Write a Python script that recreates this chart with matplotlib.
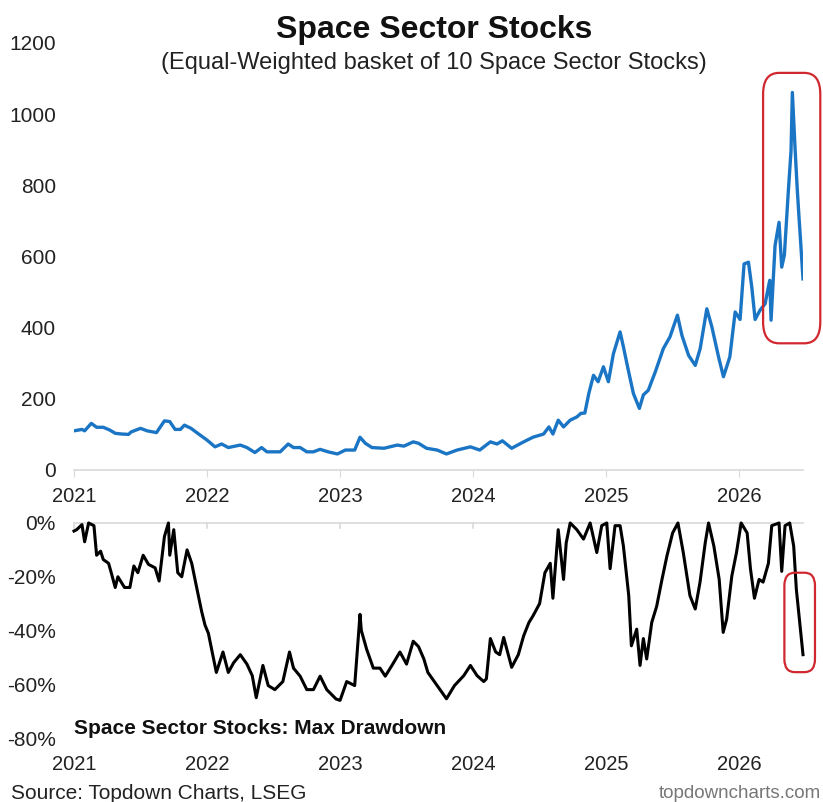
import matplotlib
matplotlib.use("Agg")
import matplotlib.pyplot as plt
from matplotlib.patches import FancyBboxPatch

plt.rcParams['font.family'] = ['Liberation Sans', 'DejaVu Sans']

# ---- data (x = decimal year) ----
price_t = [2021.00, 2021.06, 2021.08, 2021.13, 2021.17, 2021.22, 2021.27, 2021.31, 2021.36,
           2021.41, 2021.43, 2021.50, 2021.55, 2021.62, 2021.68, 2021.72, 2021.76, 2021.80,
           2021.83, 2021.88, 2021.93, 2022.00, 2022.06, 2022.11, 2022.16, 2022.25, 2022.30,
           2022.36, 2022.41, 2022.45, 2022.55, 2022.61, 2022.65, 2022.70, 2022.75, 2022.80,
           2022.85, 2022.91, 2022.98, 2023.04, 2023.11, 2023.15, 2023.19, 2023.24, 2023.33,
           2023.43, 2023.48, 2023.55, 2023.59, 2023.65, 2023.73, 2023.80, 2023.88, 2023.98,
           2024.05, 2024.13, 2024.18, 2024.22, 2024.29, 2024.38, 2024.45, 2024.53, 2024.57,
           2024.60, 2024.64, 2024.68, 2024.73, 2024.78, 2024.81, 2024.84, 2024.87, 2024.905,
           2024.94, 2024.98, 2025.017, 2025.055, 2025.105, 2025.13, 2025.167, 2025.205, 2025.25,
           2025.28, 2025.317, 2025.37, 2025.43, 2025.48, 2025.536, 2025.57, 2025.62, 2025.67,
           2025.707, 2025.757, 2025.795, 2025.845, 2025.882, 2025.93, 2025.97, 2026.007, 2026.037,
           2026.07, 2026.095, 2026.12, 2026.157, 2026.195, 2026.23, 2026.24, 2026.27, 2026.30,
           2026.32, 2026.34, 2026.37, 2026.39, 2026.40, 2026.42, 2026.436, 2026.45, 2026.46,
           2026.48]
price_v = [110, 114, 110, 131, 120, 120, 112, 103, 101,
           100, 107, 117, 110, 105, 138, 136, 114, 114,
           126, 117, 103, 84, 65, 73, 63, 70, 63,
           49, 63, 51, 51, 73, 63, 63, 51, 51,
           58, 51, 45, 56, 56, 92, 75, 63, 61,
           70, 67, 79, 75, 61, 56, 45, 56, 65,
           56, 79, 73, 82, 61, 79, 92, 101, 121,
           101, 140, 121, 140, 149, 159, 160, 215, 266,
           248, 290, 248, 327, 388, 346, 280, 215, 173,
           211, 224, 276, 341, 374, 435, 378, 322, 294,
           341, 453, 402, 318, 262, 318, 444, 423, 579,
           584, 514, 423, 449, 467, 533, 421, 631, 696,
           570, 604, 785, 897, 1061, 906, 794, 710, 654,
           537]

dd_t = [2021.00, 2021.02, 2021.06, 2021.08, 2021.11, 2021.15, 2021.17, 2021.20, 2021.22,
        2021.26, 2021.28, 2021.31, 2021.33, 2021.38, 2021.42, 2021.45, 2021.48, 2021.52,
        2021.56, 2021.61, 2021.64, 2021.68, 2021.71, 2021.72, 2021.75, 2021.78, 2021.81,
        2021.85, 2021.885, 2021.92, 2021.96, 2021.985, 2022.01, 2022.035, 2022.07, 2022.12,
        2022.16, 2022.20, 2022.25, 2022.30, 2022.34, 2022.37, 2022.42, 2022.46, 2022.51,
        2022.57, 2022.62, 2022.65, 2022.70, 2022.75, 2022.80, 2022.85, 2022.90, 2022.97,
        2023.00, 2023.05, 2023.11, 2023.15, 2023.16, 2023.20, 2023.25, 2023.30, 2023.34,
        2023.39, 2023.45, 2023.50, 2023.55, 2023.59, 2023.63, 2023.66, 2023.73, 2023.80,
        2023.86, 2023.93, 2023.98, 2024.03, 2024.08, 2024.10, 2024.13, 2024.17, 2024.20,
        2024.23, 2024.29, 2024.34, 2024.38, 2024.42, 2024.45, 2024.50, 2024.54, 2024.58,
        2024.60, 2024.64, 2024.68, 2024.70, 2024.73, 2024.78, 2024.83, 2024.88, 2024.93,
        2024.967, 2025.005, 2025.03, 2025.067, 2025.105, 2025.13, 2025.17, 2025.19, 2025.23,
        2025.255, 2025.28, 2025.305, 2025.343, 2025.38, 2025.42, 2025.457, 2025.50, 2025.54,
        2025.58, 2025.63, 2025.67, 2025.706, 2025.745, 2025.77, 2025.81, 2025.85, 2025.88,
        2025.906, 2025.945, 2025.98, 2026.015, 2026.06, 2026.085, 2026.115, 2026.15, 2026.18,
        2026.22, 2026.245, 2026.30, 2026.32, 2026.345, 2026.38, 2026.41, 2026.43, 2026.48]
dd_v = [-3, -2.5, -0.6, -7, 0, -1, -12, -10.5, -13.6,
        -15, -18.5, -24, -20, -24, -24, -16, -18.5, -12,
        -15.4, -16.7, -21.6, -5, 0, -12, -2.5, -18.5, -20,
        -10, -15, -23.5, -33, -38, -41, -47, -55.6, -48,
        -55.6, -52, -49, -52.5, -56.8, -65, -53, -60.5, -62,
        -59, -48, -54, -57, -62, -62, -57, -62, -65.5,
        -66, -59, -60.5, -34, -40, -47, -54, -54, -57,
        -53, -48, -52.5, -44, -46, -50.6, -55.6, -60.5, -65.4,
        -60.5, -56.8, -53, -56.8, -59, -58, -43, -48, -49,
        -42.6, -53.7, -49, -42, -37, -34.6, -30, -18.5, -15,
        -28, -2.5, -21, -7.4, 0, -2.5, -6, 0, -11,
        -1, 0, -17, -1, -1, -8.6, -27, -45.7, -39.5,
        -53, -43, -50.6, -37, -31, -21, -12.3, -3.7, 0,
        -11, -27, -32, -22, -7.4, 0, -8.6, -21, -40.7,
        -35.8, -19.7, -11, 0, -3.7, -17, -28, -21, -22,
        -15, -1, 0, -18, -1, 0, -8.6, -24.7, -49]

x_ticks = [2021, 2022, 2023, 2024, 2025, 2026]
top_yticks = [0, 200, 400, 600, 800, 1000, 1200]
bot_yticks = [0, -20, -40, -60, -80]

BLUE = '#1b75c5'
RED = '#d0282e'
GRAY = '#d9d9d9'
TXT = '#222222'
FS = 14.5
FSY = 15

fig = plt.figure(figsize=(8.23, 8.02), dpi=100)

# ---- top panel ----
ax1 = fig.add_axes([0.0899, 0.414, 0.8858, 0.5324])
ax1.plot(price_t, price_v, color=BLUE, lw=2.4, solid_joinstyle='round', zorder=3)
ax1.set_xlim(2021, 2026.48)
ax1.set_ylim(0, 1200)
ax1.set_xticks(x_ticks)
ax1.set_xticklabels([str(t) for t in x_ticks], fontsize=FS, color=TXT)
ax1.set_yticks(top_yticks)
ax1.set_yticklabels([str(v) for v in top_yticks], fontsize=FSY, color=TXT)
for s in ['top', 'right', 'left']:
    ax1.spines[s].set_visible(False)
ax1.spines['bottom'].set_color(GRAY)
ax1.spines['bottom'].set_linewidth(1.2)
ax1.tick_params(axis='x', length=5, color=GRAY, pad=7)
ax1.tick_params(axis='y', length=0, pad=13)
box1 = FancyBboxPatch((2026.18, 356), 0.43, 760,
                      boxstyle='round,pad=0,rounding_size=0.12',
                      mutation_aspect=500,
                      fill=False, ec=RED, lw=1.6, clip_on=False, zorder=5)
ax1.add_patch(box1)

# ---- bottom panel ----
ax2 = fig.add_axes([0.0899, 0.0798, 0.8858, 0.2681])
ax2.plot(dd_t, dd_v, color='black', lw=2.2, clip_on=False, solid_joinstyle='round', zorder=3)
ax2.set_xlim(2021, 2026.48)
ax2.set_ylim(-80, 0)
ax2.set_xticks(x_ticks)
ax2.set_xticklabels([str(t) for t in x_ticks], fontsize=FS, color=TXT)
ax2.set_yticks(bot_yticks)
ax2.set_yticklabels([f'{v}%' for v in bot_yticks], fontsize=FSY, color=TXT)
for s in ['bottom', 'right', 'left']:
    ax2.spines[s].set_visible(False)
ax2.spines['top'].set_color(GRAY)
ax2.spines['top'].set_linewidth(1.2)
ax2.spines['top'].set_zorder(1)
ax2.tick_params(axis='x', length=0, pad=12)
ax2.tick_params(axis='y', length=0, pad=13)
for t in x_ticks:
    ax2.plot([t, t], [0, -2], color=GRAY, lw=1.2, clip_on=False, zorder=1)
box2 = FancyBboxPatch((2026.34, -55.5), 0.23, 37,
                      boxstyle='round,pad=0,rounding_size=0.08',
                      mutation_aspect=60,
                      fill=False, ec=RED, lw=1.6, clip_on=False, zorder=5)
ax2.add_patch(box2)
ax2.text(0.0, 0.0, 'Space Sector Stocks: Max Drawdown', transform=ax2.transAxes,
         fontsize=15, fontweight='bold', ha='left', va='bottom', color='#111111')

# ---- titles and footer ----
fig.text(0.527, 0.962, 'Space Sector Stocks', fontsize=23, fontweight='bold',
         ha='center', va='center', color='#111111')
fig.text(0.527, 0.921, '(Equal-Weighted basket of 10 Space Sector Stocks)', fontsize=17,
         ha='center', va='center', color=TXT)
fig.text(0.013, 0.011, 'Source: Topdown Charts, LSEG', fontsize=15,
         ha='left', va='center', color=TXT)
fig.text(0.997, 0.011, 'topdowncharts.com', fontsize=13.5,
         ha='right', va='center', color='#777777')

fig.savefig('out.png', dpi=100, facecolor='white')
